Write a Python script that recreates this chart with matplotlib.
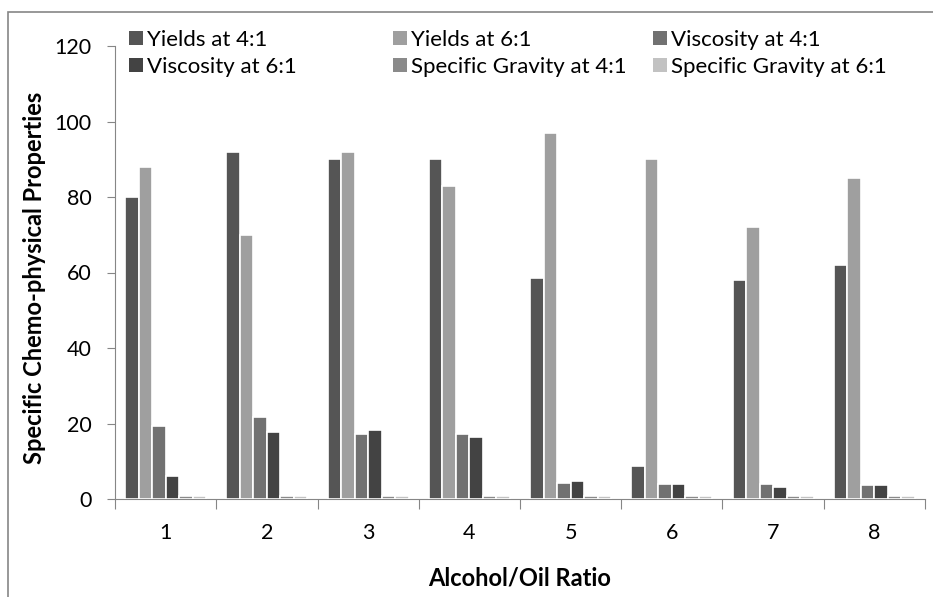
import matplotlib.pyplot as plt
import numpy as np
from matplotlib.patches import Rectangle

plt.rcParams['font.family'] = ['Lato', 'DejaVu Sans']

ratios = ["1", "2", "3", "4", "5", "6", "7", "8"]
yields_4 = [80, 92, 90, 90, 58.5, 8.7, 58, 62]
yields_6 = [88, 70, 92, 83, 97, 90, 72, 85]
visc_4 = [19.3, 21.8, 17.2, 17.1, 4.3, 3.9, 4.0, 3.7]
visc_6 = [6.0, 17.7, 18.3, 16.4, 4.8, 3.9, 3.3, 3.7]
sg_4 = [0.88, 0.88, 0.88, 0.88, 0.88, 0.88, 0.88, 0.88]
sg_6 = [0.87, 0.87, 0.87, 0.87, 0.87, 0.87, 0.87, 0.87]

series = [
    ("Yields at 4:1", yields_4, "#555555"),
    ("Yields at 6:1", yields_6, "#9f9f9f"),
    ("Viscosity at 4:1", visc_4, "#717171"),
    ("Viscosity at 6:1", visc_6, "#434343"),
    ("Specific Gravity at 4:1", sg_4, "#8a8a8a"),
    ("Specific Gravity at 6:1", sg_6, "#c2c2c2"),
]

axis_col = "#868686"

fig = plt.figure(figsize=(9.33, 5.97), dpi=100)
ax = fig.add_axes([115/933, 1-499/597, 810/933, (499-46)/597])

x = np.arange(len(ratios))
w = 0.8/6
bars = []
for i, (name, vals, col) in enumerate(series):
    b = ax.bar(x + (i-2.5)*w, vals, w, color=col, edgecolor="white", linewidth=1.2, label=name, zorder=3)
    bars.append(b)

ax.set_xlim(-0.5, 7.5)
ax.set_ylim(0, 120)
ax.set_yticks(np.arange(0, 121, 20))
ax.set_xticks(np.arange(-0.5, 8, 1))
ax.set_xticklabels([])
ax.set_xticks(x, minor=True)
ax.set_xticklabels(ratios, minor=True)
ax.tick_params(axis="x", which="major", length=7, color=axis_col, direction="out")
ax.tick_params(axis="x", which="minor", length=0, labelsize=15.5, pad=17)
ax.tick_params(axis="y", length=6, color=axis_col, labelsize=15.5, pad=11)

for s in ["top", "right"]:
    ax.spines[s].set_visible(False)
for s in ["left", "bottom"]:
    ax.spines[s].set_color(axis_col)

ax.set_xlabel("Alcohol/Oil Ratio", fontsize=17, fontweight="bold", va="center")
ax.xaxis.set_label_coords(0.5, (499-578)/453)
ax.set_ylabel("Specific Chemo-physical Properties", fontsize=17, fontweight="bold", va="center")
ax.yaxis.set_label_coords((35-115)/810, (499-278)/453)

# legend: three equal-width columns, filled row by row
col_x = [129, 393, 653]
for c in range(3):
    idx = [c, c+3]
    leg = fig.legend([bars[i] for i in idx], [series[i][0] for i in idx],
                     loc="upper left", bbox_to_anchor=(col_x[c]/933, 1-30/597),
                     bbox_transform=fig.transFigure, frameon=False, fontsize=16,
                     handlelength=0.63, handleheight=0.63, handletextpad=0.2,
                     labelspacing=0.3, borderpad=0, borderaxespad=0)
    for h in leg.legend_handles:
        h.set_edgecolor("none")

fig.patches.append(Rectangle((8/933, -0.2), 1.2, 1.2 - 12/597, transform=fig.transFigure,
                             fill=False, edgecolor=axis_col, linewidth=1.2))

fig.savefig("out.png", dpi=100)
